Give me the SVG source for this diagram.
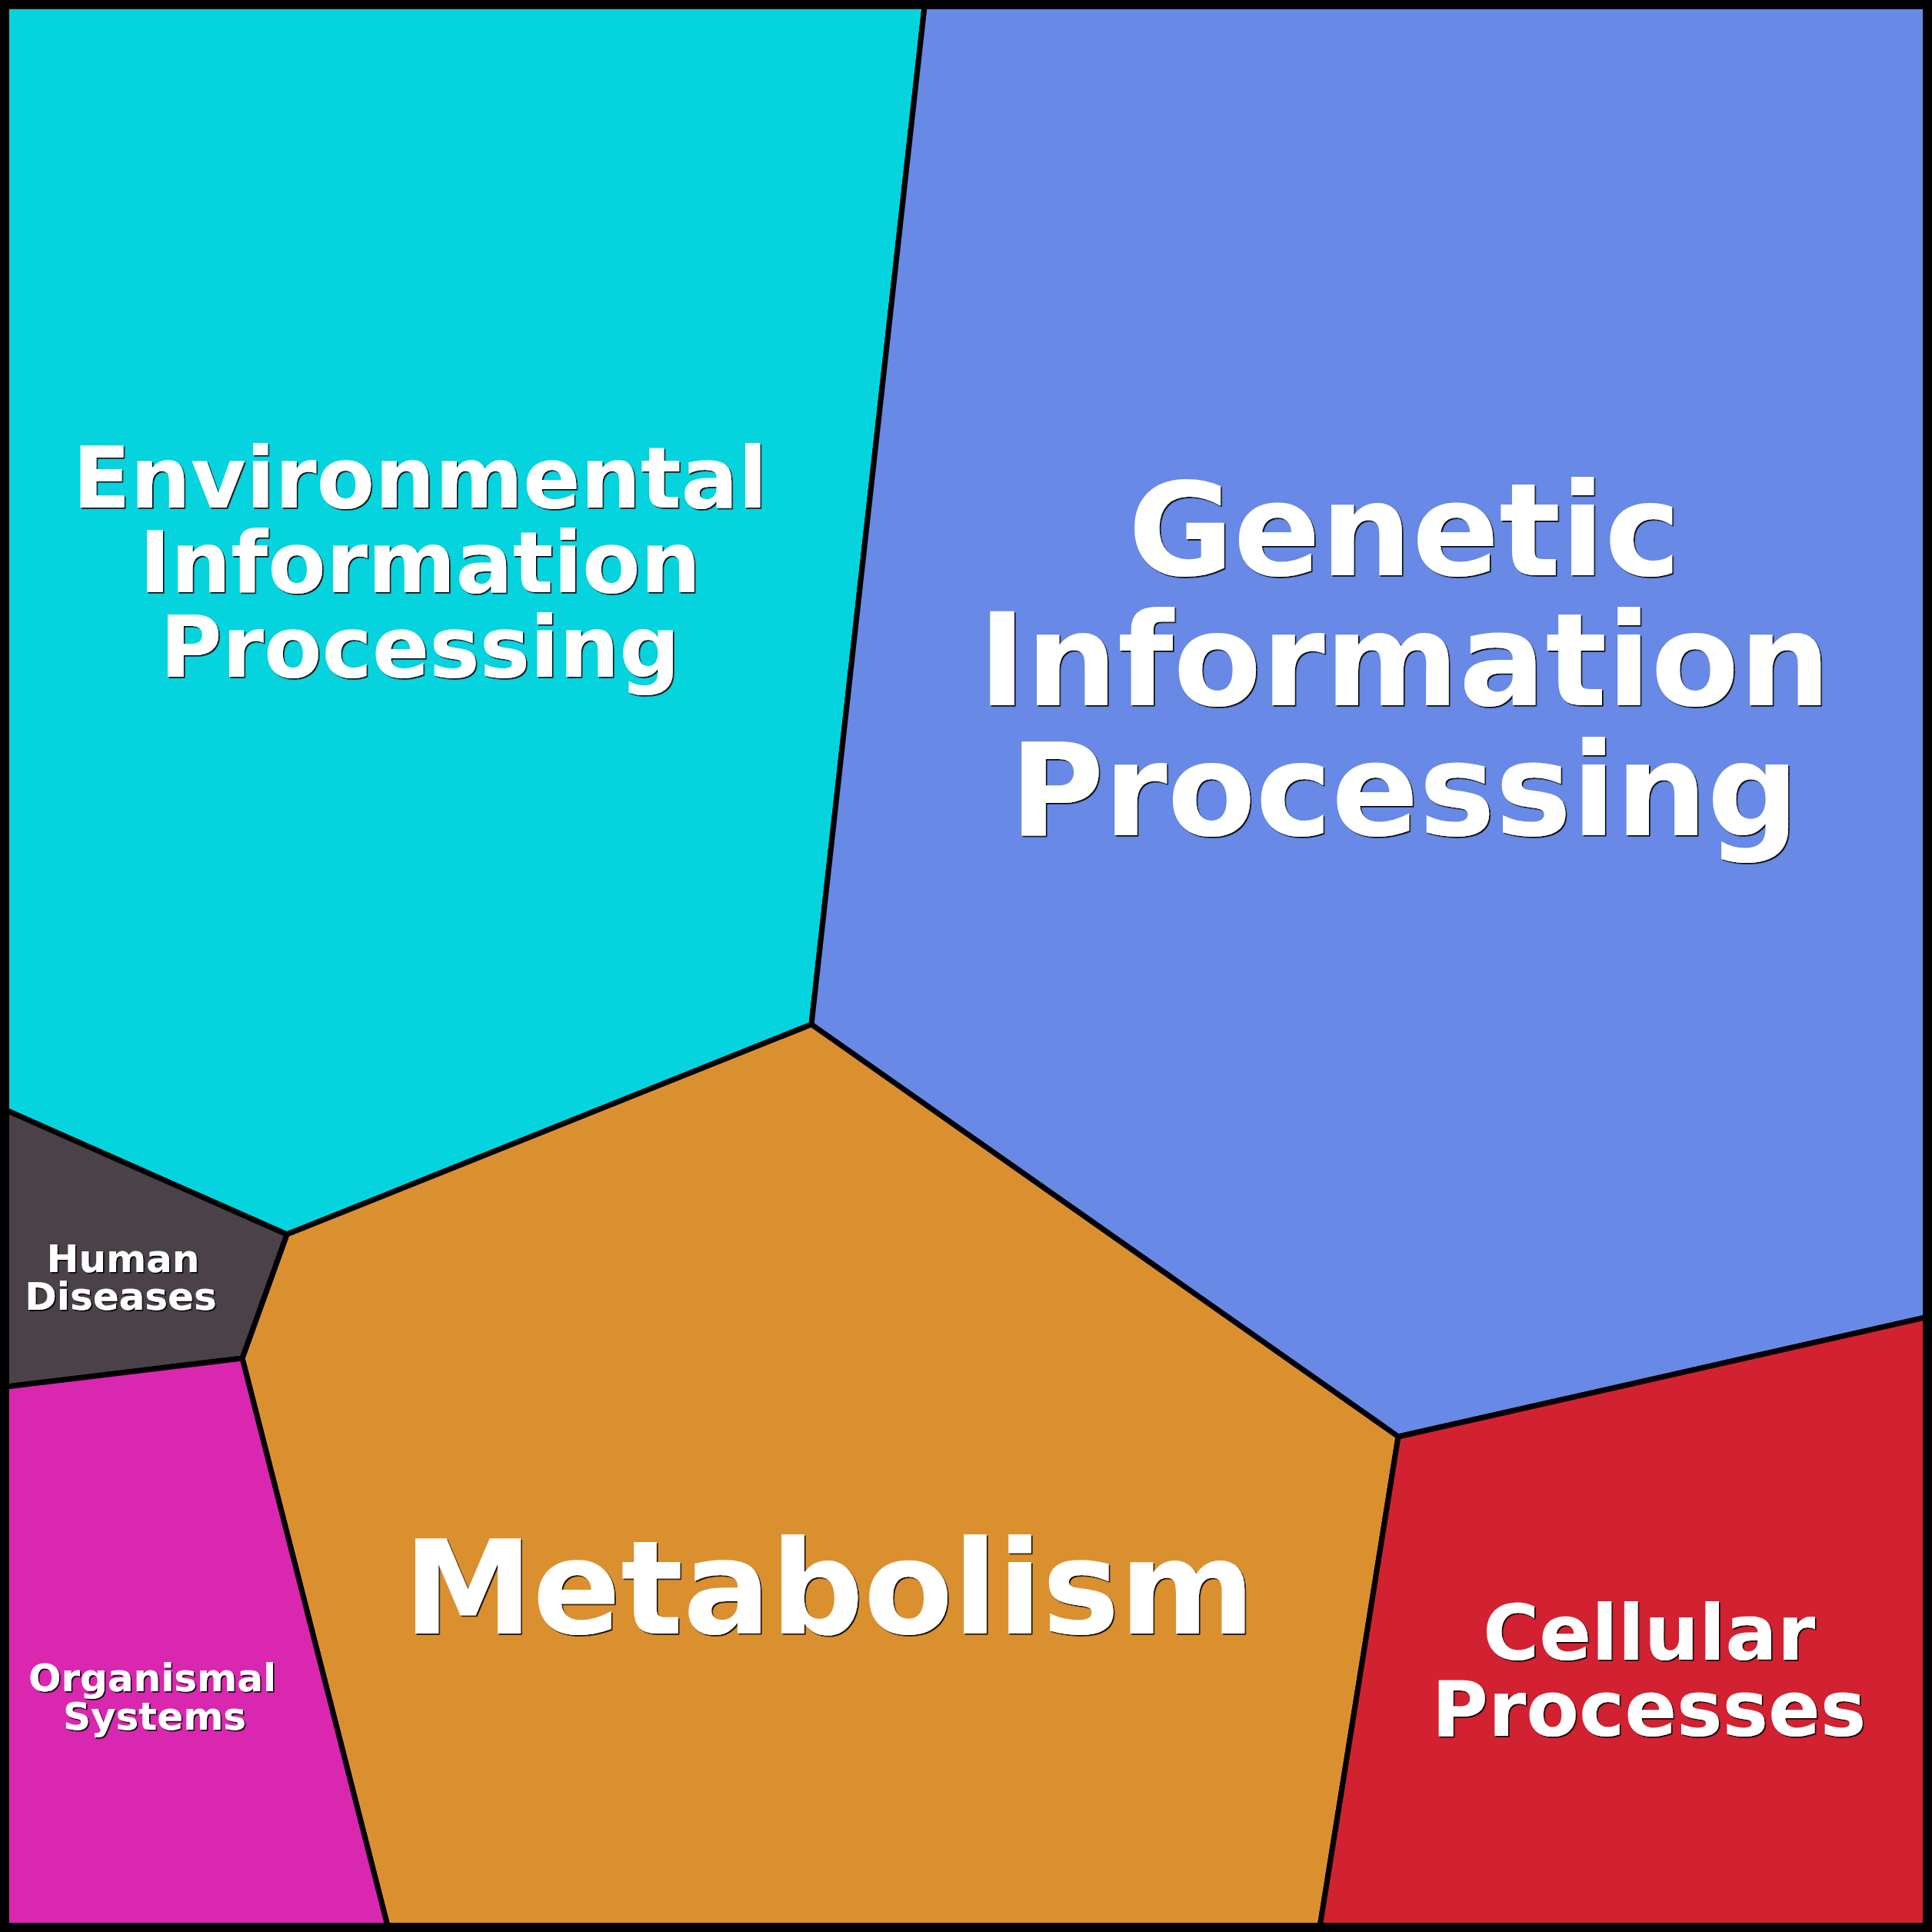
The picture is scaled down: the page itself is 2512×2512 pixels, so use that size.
<svg xmlns="http://www.w3.org/2000/svg" width="2512" height="2512" viewBox="0 0 2512 2512">
  <defs>
    <filter id="shadow" x="-5%" y="-5%" width="110%" height="110%">
      <feDropShadow dx="1.6" dy="1.6" stdDeviation="0.4" flood-color="#000" flood-opacity="1"/>
    </filter>
  </defs>
  <style>
    .cell { stroke: #000; stroke-width: 7; stroke-linejoin: miter; }
    .lbl { font-family: "DejaVu Sans", "Noto Sans", sans-serif; font-weight: bold; fill: #fff; text-anchor: middle; filter: url(#shadow); }
  </style>
  <g id="environmental-information-processing">
    <polygon class="cell" fill="#05D4DF" points="0,0 1203,0 1055,1332 373,1605 0,1440"/>
    <text class="lbl" font-size="110"><tspan x="546" y="660">Environmental</tspan><tspan x="546" y="770">Information</tspan><tspan x="546" y="880">Processing</tspan></text>
  </g>
  <g id="genetic-information-processing">
    <polygon class="cell" fill="#6889E5" points="1203,0 2512,0 2512,1711 1818,1868 1055,1332"/>
    <text class="lbl" font-size="167"><tspan x="1826" y="748">Genetic</tspan><tspan x="1826" y="917">Information</tspan><tspan x="1826" y="1086">Processing</tspan></text>
  </g>
  <g id="metabolism">
    <polygon class="cell" fill="#DB9030" points="1055,1332 1818,1868 1715,2512 506,2512 315,1766 373,1605"/>
    <text class="lbl" font-size="169" x="1078" y="2124">Metabolism</text>
  </g>
  <g id="human-diseases">
    <polygon class="cell" fill="#4B4149" points="0,1440 373,1605 315,1766 0,1804"/>
    <text class="lbl" font-size="50"><tspan x="160" y="1654">Human</tspan><tspan x="157" y="1703">Diseases</tspan></text>
  </g>
  <g id="organismal-systems">
    <polygon class="cell" fill="#DA27AF" points="0,1804 315,1766 506,2512 0,2512"/>
    <text class="lbl" font-size="50"><tspan x="198" y="2199">Organismal</tspan><tspan x="201" y="2249">Systems</tspan></text>
  </g>
  <g id="cellular-processes">
    <polygon class="cell" fill="#D22130" points="1818,1868 2512,1711 2512,2512 1715,2512"/>
    <text class="lbl" font-size="100"><tspan x="2144" y="2158">Cellular</tspan><tspan x="2144" y="2257">Processes</tspan></text>
  </g>
  <g id="connectors"/>
  <rect id="frame" x="6" y="6" width="2500" height="2500" fill="none" stroke="#000" stroke-width="12"/>
</svg>
